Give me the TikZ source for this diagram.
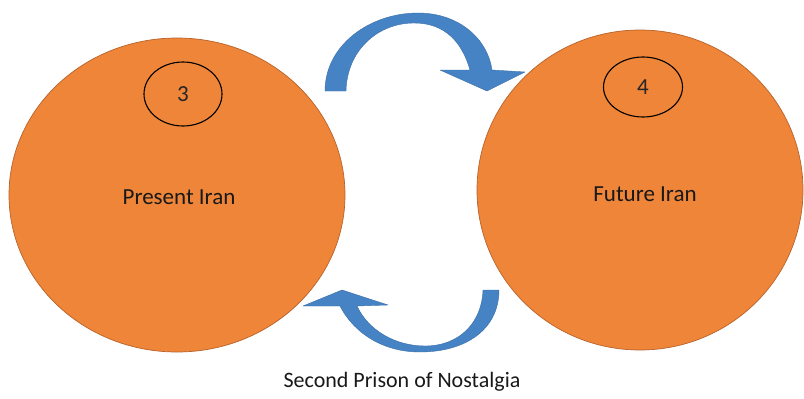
\documentclass[tikz,border=0pt]{standalone}
\usepackage{fontspec}
\setmainfont{Carlito}
\usetikzlibrary{shapes.geometric}
\definecolor{orfill}{HTML}{EE8539}
\definecolor{ordraw}{HTML}{B8622A}
\definecolor{arblue}{HTML}{4683C4}
\begin{document}
\begin{tikzpicture}[x=1pt,y=-1pt,
  bigball/.style={ellipse, draw=ordraw, line width=0.7pt, fill=orfill, inner sep=0pt},
  numring/.style={ellipse, draw=black, line width=1.1pt, inner sep=0pt, font=\fontsize{23}{27}\selectfont, text=black!85},
  maintext/.style={font=\fontsize{23}{28}\selectfont, text=black!90},
  arrowshape/.style={fill=arblue, draw=arblue!85!black, line width=0.4pt, line join=round}]
\fill[white] (0,0) rectangle (804,399);
\useasboundingbox (0,0) rectangle (804,399);

\node[bigball, minimum width=336pt, minimum height=314pt] (present) at (177,195) {};
\node[bigball, minimum width=326pt, minimum height=320pt] (future) at (640,190) {};

\node[numring, minimum width=78pt, minimum height=64pt] (three) at (183,94) {3};
\node[numring, minimum width=79pt, minimum height=60pt] (four) at (643,87) {4};

\node[maintext] (ptext) at (179,197) {Present Iran};
\node[maintext] (ftext) at (645,194) {Future Iran};

% top curved arrow
\path[arrowshape] (325,91) .. controls (325,45) and (370,13) .. (418,13)
  .. controls (460,13) and (488,40) .. (492,70) -- (525,72) -- (487,91) -- (440,70) -- (470,70)
  .. controls (462,42) and (445,23) .. (414,23)
  .. controls (378,23) and (347,50) .. (346,91) -- cycle;

% bottom curved arrow
\path[arrowshape] (340,306) .. controls (355,335) and (385,352) .. (420,352)
  .. controls (465,352) and (499,330) .. (499,290) -- (483,290)
  .. controls (482,322) and (460,346) .. (425,346)
  .. controls (395,346) and (368,330) .. (357,306) -- (388,305) -- (342,290) -- (303,306) -- cycle;

\node[font=\fontsize{22}{26}\selectfont, text=black!90] (caption) at (402,382) {Second Prison of Nostalgia};
\end{tikzpicture}
\end{document}
